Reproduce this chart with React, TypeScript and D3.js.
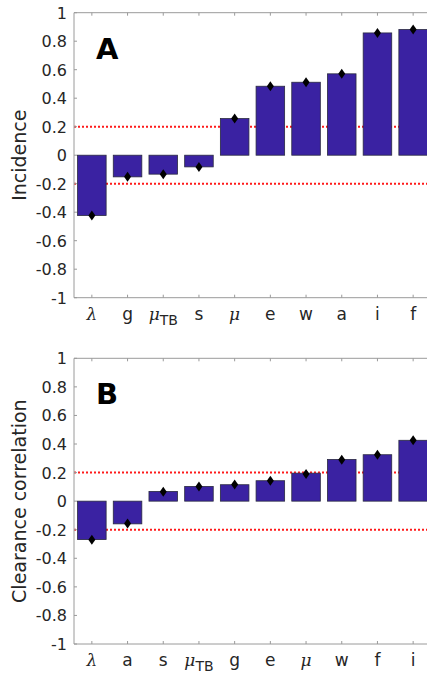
import React from "react";
import * as d3 from "d3";

const catsA = ["λ", "g", "μ_TB", "s", "μ", "e", "w", "a", "i", "f"];
const barsA = [-0.423, -0.152, -0.133, -0.082, 0.257, 0.484, 0.512, 0.571, 0.858, 0.882];
const markA = [-0.423, -0.152, -0.133, -0.082, 0.257, 0.484, 0.512, 0.571, 0.858, 0.882];

const catsB = ["λ", "a", "s", "μ_TB", "g", "e", "μ", "w", "f", "i"];
const barsB = [-0.269, -0.159, 0.068, 0.103, 0.115, 0.143, 0.196, 0.292, 0.325, 0.426];
const markB = [-0.27, -0.157, 0.065, 0.103, 0.117, 0.143, 0.19, 0.29, 0.325, 0.426];

const yTicks = [1, 0.8, 0.6, 0.4, 0.2, 0, -0.2, -0.4, -0.6, -0.8, -1];
const thresholds = [0.2, -0.2];

const FONT = "DejaVu Sans, sans-serif";
const AXIS = "#9a9a9a";
const TXT = "#262626";
const BAR = "#3a22a2";

function Label({ s, x, y }: { s: string; x: number; y: number }) {
  const greek = s.startsWith("λ") || s.startsWith("μ");
  if (s.includes("_")) {
    const [a, b] = s.split("_");
    return (
      <text x={x} y={y} textAnchor="middle" fontFamily={FONT} fontSize={17} fill={TXT}>
        <tspan fontStyle="italic" fontFamily="DejaVu Serif, serif">{a}</tspan>
        <tspan fontSize={14} dy={5}>{b}</tspan>
      </text>
    );
  }
  return (
    <text x={x} y={y} textAnchor="middle" fontFamily={greek ? "DejaVu Serif, serif" : FONT} fontStyle={greek ? "italic" : "normal"} fontSize={17} fill={TXT}>
      {s}
    </text>
  );
}

function Panel({ cats, bars, marks, top, bottom, letter, ylabel }: any) {
  const x = d3.scaleLinear().domain([0.5, 10.5]).range([74, 431]);
  const y = d3.scaleLinear().domain([-1, 1]).range([bottom, top]);
  const bw = x(0.8) - x(0);
  const left = 74;
  const right = 427;
  return (
    <g>
      {thresholds.map((t) => (
        <line key={t} x1={left} x2={right} y1={y(t)} y2={y(t)} stroke="#ff1a1a" strokeWidth={2} strokeDasharray="2,2" />
      ))}
      {bars.map((v: number, i: number) => (
        <rect key={i} x={x(i + 1) - bw / 2} width={bw} y={y(Math.max(0, v))} height={Math.abs(y(v) - y(0))} fill={BAR} stroke="#2a2a40" strokeWidth={0.8} />
      ))}
      {marks.map((v: number, i: number) => {
        const cx = x(i + 1);
        const cy = y(v);
        return <path key={i} d={`M${cx},${cy - 5}L${cx + 3.5},${cy}L${cx},${cy + 5}L${cx - 3.5},${cy}Z`} fill="#000" />;
      })}
      <line x1={left} x2={right} y1={top} y2={top} stroke={AXIS} strokeWidth={1} />
      <line x1={left} x2={right} y1={bottom} y2={bottom} stroke={AXIS} strokeWidth={1} />
      <line x1={left} x2={left} y1={top} y2={bottom} stroke={AXIS} strokeWidth={1} />
      {cats.map((c: string, i: number) => (
        <g key={i}>
          <line x1={x(i + 1)} x2={x(i + 1)} y1={bottom} y2={bottom - 3} stroke={AXIS} />
          <line x1={x(i + 1)} x2={x(i + 1)} y1={top} y2={top + 3} stroke={AXIS} />
          <Label s={c} x={x(i + 1)} y={bottom + 22} />
        </g>
      ))}
      {yTicks.map((t) => (
        <g key={t}>
          <line x1={left} x2={left + 3} y1={y(t)} y2={y(t)} stroke={AXIS} />
          <text x={67} y={y(t) + 6} textAnchor="end" fontFamily={FONT} fontSize={16} fill={TXT}>
            {String(t)}
          </text>
        </g>
      ))}
      <text transform={`translate(26,${(top + bottom) / 2}) rotate(-90)`} textAnchor="middle" fontFamily={FONT} fontSize={19} fill={TXT}>
        {ylabel}
      </text>
      <text x={96} y={top + 46} fontFamily={FONT} fontWeight="bold" fontSize={29} fill="#000">
        {letter}
      </text>
    </g>
  );
}

export default function App() {
  return (
    <svg width={427} height={675} style={{ position: "absolute", left: 0, top: 0, background: "#fff" }}>
      <rect width={427} height={675} fill="#fff" />
      <Panel cats={catsA} bars={barsA} marks={markA} top={12.7} bottom={297.7} letter="A" ylabel="Incidence" />
      <Panel cats={catsB} bars={barsB} marks={markB} top={358.3} bottom={644} letter="B" ylabel="Clearance correlation" />
    </svg>
  );
}
